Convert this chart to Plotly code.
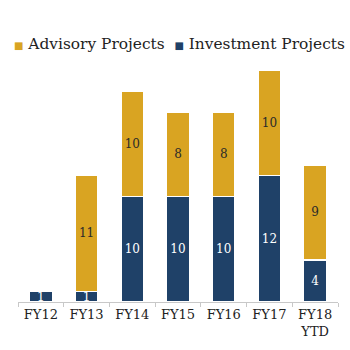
import plotly.graph_objects as go

categories = ["FY12", "FY13", "FY14", "FY15", "FY16", "FY17", "FY18<br>YTD"]
investment = [1, 1, 10, 10, 10, 12, 4]
advisory = [0, 11, 10, 8, 8, 10, 9]
legend_labels = ["Advisory Projects", "Investment Projects"]

NAVY = "#1F4168"
GOLD = "#D9A422"
FONT = "DejaVu Serif"

fig = go.Figure()
fig.add_trace(go.Bar(
    x=categories, y=investment, name=legend_labels[1],
    marker=dict(color=NAVY, line=dict(color="white", width=1.5)),
    text=[str(v) if v else "" for v in investment],
    textposition="inside", insidetextanchor="middle", textangle=0,
    textfont=dict(color="white", size=12, family=FONT),
    showlegend=False,
))
fig.add_trace(go.Bar(
    x=categories, y=advisory, name=legend_labels[0],
    marker=dict(color=GOLD, line=dict(color="white", width=1.5)),
    text=[str(v) if v else "" for v in advisory],
    textposition="inside", insidetextanchor="middle", textangle=0,
    textfont=dict(color="#2a2a2a", size=12, family=FONT),
    showlegend=False,
))

sq = "<span style='font-size:10px;color:%s'>■</span>"
legend_text = (sq % GOLD) + " " + legend_labels[0] + "  " + (sq % NAVY) + " " + legend_labels[1]
fig.add_annotation(xref="paper", yref="paper", x=0.506, y=1.112,
                   xanchor="center", yanchor="middle", showarrow=False,
                   text=legend_text, font=dict(size=15.4, family=FONT, color="#222222"))

fig.update_layout(
    barmode="stack", bargap=0.5,
    width=350, height=350,
    margin=dict(l=18, r=12, t=70, b=48),
    paper_bgcolor="white", plot_bgcolor="white",
    font=dict(family=FONT, color="#222222"),
    uniformtext=dict(minsize=12, mode="show"),
    showlegend=False,
)
fig.update_xaxes(showline=True, linecolor="#c8c8c8", linewidth=1,
                 ticks="outside", tickson="boundaries", ticklen=4, tickcolor="#c8c8c8",
                 tickfont=dict(size=13, family=FONT, color="#222222"))
fig.update_yaxes(range=[0, 22], visible=False, showgrid=False)

fig.write_html("out.html")
